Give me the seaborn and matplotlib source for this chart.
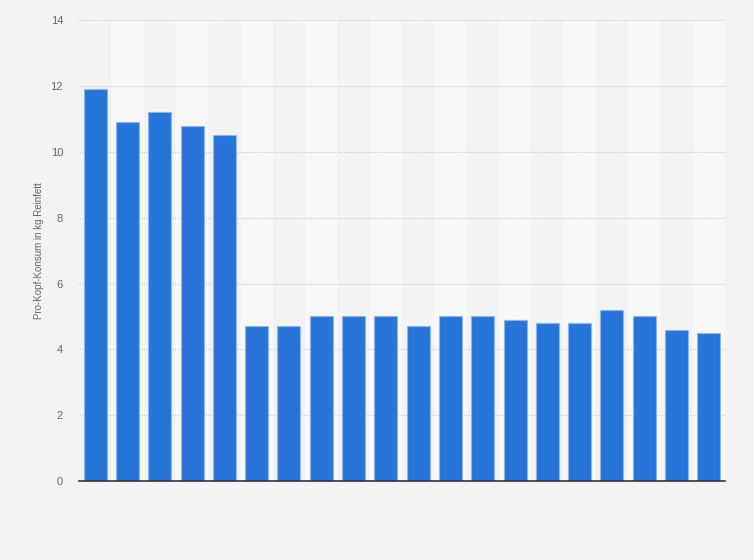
"""Pro-Kopf-Konsum in kg Reinfett - bar chart."""
import matplotlib
matplotlib.use('Agg')
import matplotlib.pyplot as plt
import seaborn as sns
import pandas as pd

# data (x labels are not shown in the picture)
categories = [str(i) for i in range(1, 21)]
values = [11.9, 10.9, 11.2, 10.8, 10.5, 4.7, 4.7, 5.0, 5.0, 5.0,
          4.7, 5.0, 5.0, 4.9, 4.8, 4.8, 5.2, 5.0, 4.6, 4.5]
y_ticks = [0, 2, 4, 6, 8, 10, 12, 14]
y_label = 'Pro-Kopf-Konsum in kg Reinfett'

df = pd.DataFrame({'cat': categories, 'val': values})

sns.set_style('white')
plt.rcParams['font.family'] = ['Liberation Sans', 'DejaVu Sans']

fig = plt.figure(figsize=(7.54, 5.6), dpi=100, facecolor='#f3f3f3')
ax = fig.add_axes([0.1048, 0.141, 0.8567, 0.823])
ax.set_facecolor('#f3f3f3')

# alternating column bands
for i in range(len(categories)):
    ax.axvspan(i - 0.5, i + 0.5, color='#f3f3f3' if i % 2 == 0 else '#f8f8f8',
               zorder=0, lw=0)

sns.barplot(data=df, x='cat', y='val', color='#2775d9', width=0.71,
            edgecolor='#8fb6ec', linewidth=0.8, saturation=1, ax=ax, zorder=3)

ax.set_xlim(-0.5, len(categories) - 0.5)
ax.set_ylim(0, 14)
ax.set_yticks(y_ticks)
ax.set_yticklabels([str(t) for t in y_ticks], color='#666666', fontsize=8)
ax.set_xticklabels([])
ax.tick_params(axis='both', length=0)
ax.tick_params(axis='y', pad=11.5)
ax.set_xlabel('')
ax.set_ylabel(y_label, color='#666666', fontsize=7, labelpad=5)

ax.yaxis.grid(True, color='#d2d2d2', linestyle=(0, (1, 1)), linewidth=0.8, zorder=1)
ax.set_axisbelow(True)
for side in ['top', 'right', 'left']:
    ax.spines[side].set_visible(False)
ax.spines['bottom'].set_color('#333333')
ax.spines['bottom'].set_linewidth(1.2)
ax.spines['bottom'].set_zorder(5)

plt.savefig('out.png', dpi=100, facecolor='#f3f3f3')
